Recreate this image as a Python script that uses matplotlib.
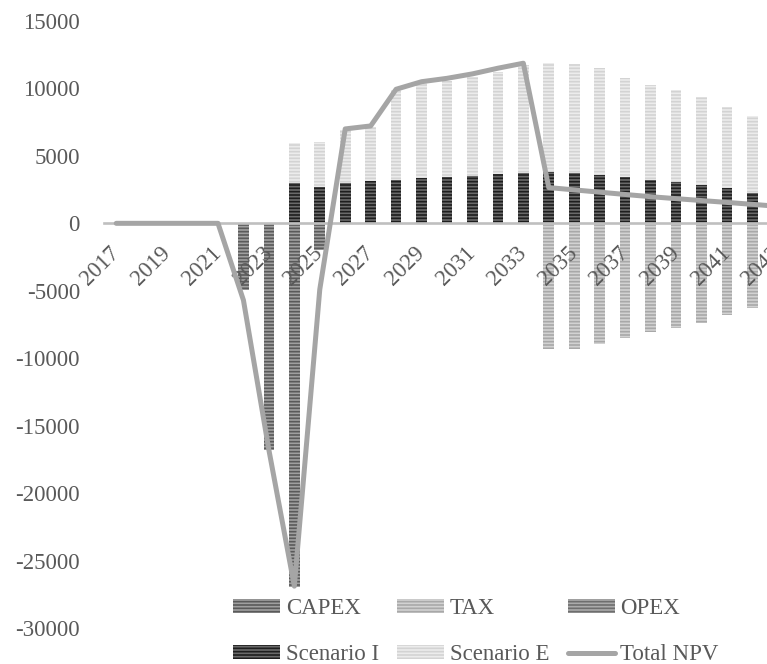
import matplotlib
matplotlib.use("Agg")
import matplotlib.pyplot as plt

plt.rcParams['font.family'] = ['Liberation Serif', 'DejaVu Serif']
plt.rcParams['axes.unicode_minus'] = False
plt.rcParams['hatch.linewidth'] = 1.2

# Project years (the NPV line runs one year past the last bar)
years = list(range(2017, 2044))

# Cash-flow components per year, 2017-2042
capex = [0, 0, 0, 0, 0, -4950, -16800, -26950, -2000,
         0, 0, 0, 0, 0, 0, 0, 0, 0, 0, 0, 0, 0, 0, 0, 0, 0]
tax = [0, 0, 0, 0, 0, 0, 0, 0, 0, 0, 0, 0, 0, 0, 0, 0, 0,
       -9350, -9300, -8980, -8480, -8030, -7760, -7370, -6830, -6260]
opex = [0] * 26
scenario_i = [0, 0, 0, 0, 0, 0, 0,
              2970, 2720, 2970, 3160, 3240, 3340, 3430, 3530, 3660, 3750,
              3830, 3720, 3620, 3460, 3230, 3060, 2830, 2630, 2260]
scenario_e = [0, 0, 0, 0, 0, 0, 0,
              2960, 3280, 3930, 3990, 6660, 7050, 7150, 7350, 7590, 8000,
              8040, 8100, 7880, 7300, 7010, 6810, 6520, 6000, 5680]

# Cumulative result, 2017-2043
total_npv = [0, 0, 0, 0, 0, -5700, -16800, -26900, -4900,
             7000, 7220, 9940, 10500, 10750, 11080, 11500, 11870,
             2650, 2480, 2310, 2140, 1975, 1830, 1690, 1550, 1410, 1260]

y_ticks = list(range(-30000, 15001, 5000))
x_tick_years = years[::2]

W, H = 767, 664
fig = plt.figure(figsize=(W / 100, H / 100), dpi=100)
ax = fig.add_axes([103.5 / W, (H - 628) / H, 687 / W, (628 - 21) / H])

# Category axis sits on the zero line
for s in ('top', 'right', 'left'):
    ax.spines[s].set_visible(False)
ax.spines['bottom'].set_position(('data', 0))
ax.spines['bottom'].set_color('#bfbfbf')
ax.spines['bottom'].set_linewidth(1.9)
ax.spines['bottom'].set_zorder(2)

bar_years = years[:len(capex)]
bw = 0.42
bar_kw = dict(width=bw, linewidth=0, hatch='-----', zorder=1)

b_capex = ax.bar(bar_years, capex, color='#a0a0a0', edgecolor='#5a5a5a', **bar_kw)
b_tax = ax.bar(bar_years, tax, color='#d2d2d2', edgecolor='#a8a8a8', **bar_kw)
b_opex = ax.bar(bar_years, opex, color='#ababab', edgecolor='#6e6e6e', **bar_kw)
b_si = ax.bar(bar_years, scenario_i, color='#6a6a6a', edgecolor='#1e1e1e', **bar_kw)
b_se = ax.bar(bar_years, scenario_e, bottom=scenario_i, color='#ececec',
              edgecolor='#d3d3d3', **bar_kw)

ln, = ax.plot(years, total_npv, color='#a5a5a5', linewidth=3.6,
              solid_joinstyle='round', solid_capstyle='round', zorder=3)

ax.set_xlim(2016.5, 2043.5)
ax.set_ylim(-30000, 15000)
ax.set_yticks(y_ticks)
ax.set_yticklabels([str(v) for v in y_ticks])
ax.set_xticks(x_tick_years)
ax.set_xticklabels([str(y) for y in x_tick_years])

ax.tick_params(axis='both', length=0, labelsize=16.5, colors='#595959')
ax.tick_params(axis='y', pad=17)
ax.tick_params(axis='x', pad=19)
for lbl in ax.get_xticklabels():
    lbl.set_rotation(45)
    lbl.set_ha('right')
    lbl.set_va('center')
    lbl.set_rotation_mode('anchor')

handles = [b_capex, b_si, b_tax, b_se, b_opex, ln]
labels = ['CAPEX', 'Scenario I', 'TAX', 'Scenario E', 'OPEX', 'Total NPV']
leg = fig.legend(handles, labels, ncol=3, loc='upper left',
                 bbox_to_anchor=(233 / W, 1 - 598 / H), frameon=False,
                 fontsize=16.5, handlelength=2.05, handleheight=0.6,
                 handletextpad=0.25, columnspacing=0.8, labelspacing=1.1,
                 borderpad=0, borderaxespad=0)
for t in leg.get_texts():
    t.set_color('#595959')

fig.savefig('out.png', dpi=100)
